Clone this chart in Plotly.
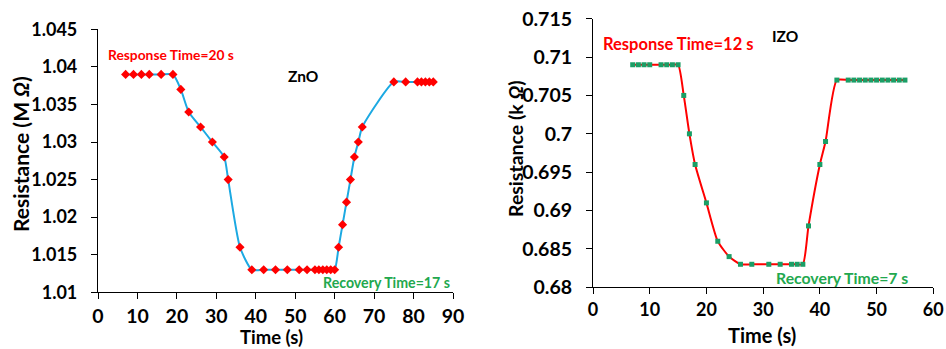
import plotly.graph_objects as go

# ZnO data
zno_t = [7, 9, 11, 13, 16, 19, 21, 23, 26, 29, 32, 33, 36, 39, 42, 45, 48, 51, 53,
         55, 56, 57, 58, 59, 60, 61, 62, 63, 64, 65, 66, 67, 75, 78, 81, 82, 83, 84, 85]
zno_r = [1.039, 1.039, 1.039, 1.039, 1.039, 1.039, 1.037, 1.034, 1.032, 1.030, 1.028, 1.025,
         1.016, 1.013, 1.013, 1.013, 1.013, 1.013, 1.013,
         1.013, 1.013, 1.013, 1.013, 1.013, 1.013, 1.016, 1.019, 1.022, 1.025, 1.028, 1.030,
         1.032, 1.038, 1.038, 1.038, 1.038, 1.038, 1.038, 1.038]

# IZO data
izo_t = [7, 8, 9, 10, 12, 13, 14, 15, 16, 17, 18, 20, 22, 24, 26, 28, 31, 33, 35, 36, 37,
         38, 40, 41, 43, 45, 46, 47, 48, 49, 50, 51, 52, 53, 54, 55]
izo_r = [0.709, 0.709, 0.709, 0.709, 0.709, 0.709, 0.709, 0.709, 0.705, 0.700, 0.696, 0.691,
         0.686, 0.684, 0.683, 0.683, 0.683, 0.683, 0.683, 0.683, 0.683,
         0.688, 0.696, 0.699, 0.707, 0.707, 0.707, 0.707, 0.707, 0.707, 0.707, 0.707, 0.707,
         0.707, 0.707, 0.707]

zno_yticks = [1.01, 1.015, 1.02, 1.025, 1.03, 1.035, 1.04, 1.045]
zno_yticklabels = ["1.01", "1.015", "1.02", "1.025", "1.03", "1.035", "1.04", "1.045"]
izo_yticks = [0.68, 0.685, 0.69, 0.695, 0.7, 0.705, 0.71, 0.715]
izo_yticklabels = ["0.68", "0.685", "0.69", "0.695", "0.7", "0.705", "0.71", "0.715"]

W, H = 946, 349
FONT = "Lato"
RED = "#FF0000"
GREEN = "#22A84E"
BLUE = "#1CA9E2"
SQ_GREEN = "#1A9E66"


def px(x):
    return x / W


def py(y):
    return 1 - y / H


fig = go.Figure()

fig.add_trace(go.Scatter(
    x=zno_t, y=zno_r, mode="lines+markers", xaxis="x", yaxis="y",
    line=dict(color=BLUE, width=2, shape="spline", smoothing=0.6),
    marker=dict(symbol="diamond", size=7, color=RED),
    showlegend=False, cliponaxis=False))

fig.add_trace(go.Scatter(
    x=izo_t, y=izo_r, mode="lines+markers", xaxis="x2", yaxis="y2",
    line=dict(color=RED, width=2, shape="spline", smoothing=0.6),
    marker=dict(symbol="square", size=5, color=SQ_GREEN),
    showlegend=False, cliponaxis=False))


def axis_common(size):
    return dict(
        showgrid=False, zeroline=False, showline=True, linecolor="black", linewidth=1.2,
        ticks="outside", ticklen=6, tickwidth=1.2, tickcolor="black", automargin=False,
        tickfont=dict(family=FONT, size=size, color="black", weight="bold"),
    )


fig.update_layout(
    template="none",
    width=W, height=H,
    margin=dict(l=0, r=0, t=0, b=0, pad=0),
    paper_bgcolor="white", plot_bgcolor="white",
    xaxis=dict(domain=[px(98), px(453)], range=[0, 90], dtick=10, anchor="y",
               ticklabelstandoff=0, **axis_common(19.5)),
    yaxis=dict(domain=[py(292.3), py(29.3)], range=[1.01, 1.045],
               tickvals=zno_yticks, ticktext=zno_yticklabels, anchor="x",
               ticklabelstandoff=10, **axis_common(18)),
    xaxis2=dict(domain=[px(593), px(933.3)], range=[0, 60], dtick=10, anchor="y2",
                ticklabelstandoff=0, **axis_common(18)),
    yaxis2=dict(domain=[py(287.3), py(18.7)], range=[0.68, 0.715],
                tickvals=izo_yticks, ticktext=izo_yticklabels, anchor="x2",
                ticklabelstandoff=10, **axis_common(19.5)),
)

annotations = [
    # Left chart
    dict(text="Response Time=20 s", x=px(106), y=py(54), color=RED, size=13.8, xanchor="left"),
    dict(text="ZnO", x=px(286), y=py(76), color="black", size=15.5, xanchor="left"),
    dict(text="Recovery Time=17 s", x=px(321), y=py(282), color=GREEN, size=14.2, xanchor="left"),
    # Right chart
    dict(text="Response Time=12 s", x=px(601), y=py(44), color=RED, size=16.5, xanchor="left"),
    dict(text="IZO", x=px(770), y=py(36), color="black", size=15.5, xanchor="left"),
    dict(text="Recovery Time=7 s", x=px(774), y=py(277), color=GREEN, size=15.8, xanchor="left"),
]
for a in annotations:
    fig.add_annotation(
        text=a["text"], x=a["x"], y=a["y"], xref="paper", yref="paper",
        xanchor=a["xanchor"], yanchor="middle", showarrow=False,
        font=dict(family=FONT, size=a["size"], color=a["color"], weight="bold"))

# Axis titles
fig.add_annotation(
    text="Time (s)", x=px(271), y=0, xref="paper", yref="paper",
    xanchor="center", yanchor="bottom", showarrow=False, borderpad=0,
    font=dict(family=FONT, size=18.5, color="black", weight="bold"))
fig.add_annotation(
    text="Time (s)", x=px(762), y=py(335), xref="paper", yref="paper",
    xanchor="center", yanchor="middle", showarrow=False,
    font=dict(family=FONT, size=20, color="black", weight="bold"))

fig.add_annotation(
    text="Resistance (M <i>Ω</i>)", x=px(20), y=py(154), xref="paper", yref="paper",
    textangle=-90, showarrow=False, xanchor="center", yanchor="middle",
    font=dict(family=FONT, size=21, color="black", weight="bold"))
fig.add_annotation(
    text="Resistance (k <i>Ω</i>)", x=px(515), y=py(149), xref="paper", yref="paper",
    textangle=-90, showarrow=False, xanchor="center", yanchor="middle",
    font=dict(family=FONT, size=19.5, color="black", weight="bold"))

fig.write_html("out.html")
